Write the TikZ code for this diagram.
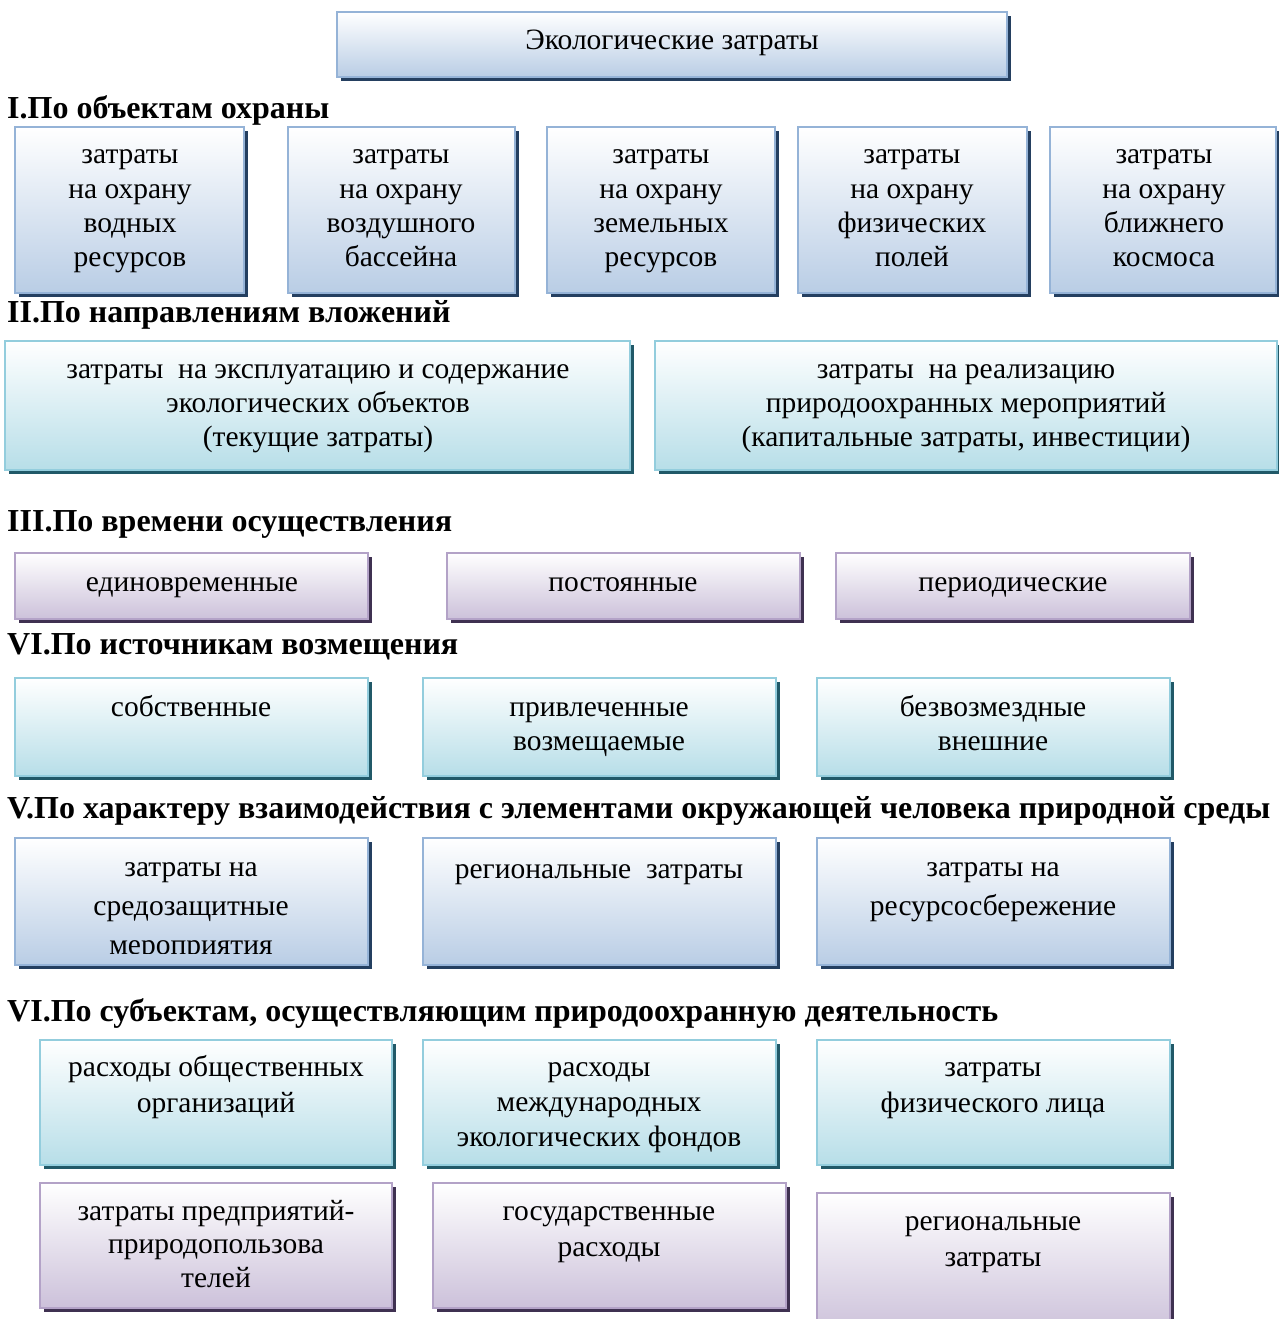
\documentclass[tikz,border=0pt]{standalone}
\usepackage{fontspec}
\setmainfont{Liberation Serif}
\usetikzlibrary{shadows}

% palette: border, bottom of the gradient, drop shadow
\definecolor{blueline}{HTML}{95B3D7}
\definecolor{bluefill}{HTML}{B9CDE5}
\definecolor{blueshade}{HTML}{243F60}
\definecolor{tealline}{HTML}{93CDDD}
\definecolor{tealfill}{HTML}{B7DEE8}
\definecolor{tealshade}{HTML}{215968}
\definecolor{violetline}{HTML}{B3A2C7}
\definecolor{violetfill}{HTML}{CCC1DA}
\definecolor{violetshade}{HTML}{3F3151}

% multi-line centred label whose baseline is the first line
\newcommand\ml[1]{\begin{tabular}[t]{@{}c@{}}#1\end{tabular}}

\tikzset{
  panel/.style={rectangle, inner sep=0pt, outer sep=0pt, anchor=north west, line width=2.5pt},
  bluebox/.style={panel, draw=blueline, top color=white, middle color=bluefill!55!white, bottom color=bluefill,
    drop shadow={shadow xshift=4pt, shadow yshift=-4pt, opacity=1, fill=blueshade}},
  tealbox/.style={panel, draw=tealline, top color=white, middle color=tealfill!55!white, bottom color=tealfill,
    drop shadow={shadow xshift=4pt, shadow yshift=-4pt, opacity=1, fill=tealshade}},
  violetbox/.style={panel, draw=violetline, top color=white, middle color=violetfill!55!white, bottom color=violetfill,
    drop shadow={shadow xshift=4pt, shadow yshift=-4pt, opacity=1, fill=violetshade}},
  txt/.style={anchor=base, inner sep=0pt, font=\fontsize{29.5}{#1}\selectfont},
  txt/.default=34,
  head/.style={anchor=base west, inner sep=0pt, font=\fontsize{32}{36}\selectfont\bfseries},
}

\begin{document}
\begin{tikzpicture}[x=1pt, y=-1pt]
\useasboundingbox (0,0) rectangle (1278,1319);
\fill[white] (0,0) rectangle (1278,1319);

% title
\node[bluebox, minimum width=670pt, minimum height=65pt] (title) at (337,12) {};
\node[txt] (titletext) at (672,50) {Экологические затраты};

% I
\node[head] (h1) at (7,119) {I.По объектам охраны};
\node[bluebox, minimum width=229pt, minimum height=166pt] (o1) at (15,127) {};
\node[bluebox, minimum width=227pt, minimum height=166pt] (o2) at (288,127) {};
\node[bluebox, minimum width=228pt, minimum height=166pt] (o3) at (547,127) {};
\node[bluebox, minimum width=229pt, minimum height=166pt] (o4) at (798,127) {};
\node[bluebox, minimum width=226pt, minimum height=166pt] (o5) at (1050,127) {};
\node[txt] (o1t) at (130,164) {\ml{затраты\\на охрану\\водных\\ресурсов}};
\node[txt] (o2t) at (401,164) {\ml{затраты\\на охрану\\воздушного\\бассейна}};
\node[txt] (o3t) at (661,164) {\ml{затраты\\на охрану\\земельных\\ресурсов}};
\node[txt] (o4t) at (912,164) {\ml{затраты\\на охрану\\физических\\полей}};
\node[txt] (o5t) at (1164,164) {\ml{затраты\\на охрану\\ближнего\\космоса}};

% II
\node[head] (h2) at (7,322) {II.По направлениям вложений};
\node[tealbox, minimum width=625pt, minimum height=129pt] (d1) at (5,341) {};
\node[tealbox, minimum width=622pt, minimum height=129pt] (d2) at (655,341) {};
\node[txt] (d1t) at (318,378) {\ml{затраты~ на эксплуатацию и содержание\\экологических объектов\\(текущие затраты)}};
\node[txt] (d2t) at (966,378) {\ml{затраты~ на реализацию\\природоохранных мероприятий\\(капитальные затраты, инвестиции)}};

% III
\node[head] (h3) at (7,531) {III.По времени осуществления};
\node[violetbox, minimum width=353pt, minimum height=66pt] (t1) at (15,553) {};
\node[violetbox, minimum width=353pt, minimum height=66pt] (t2) at (447,553) {};
\node[violetbox, minimum width=354pt, minimum height=66pt] (t3) at (836,553) {};
\node[txt] (t1t) at (192,591) {единовременные};
\node[txt] (t2t) at (623,591) {постоянные};
\node[txt] (t3t) at (1013,591) {периодические};

% IV
\node[head] (h4) at (7,654) {VI.По источникам возмещения};
\node[tealbox, minimum width=353pt, minimum height=98pt] (s1) at (15,678) {};
\node[tealbox, minimum width=353pt, minimum height=98pt] (s2) at (423,678) {};
\node[tealbox, minimum width=353pt, minimum height=98pt] (s3) at (817,678) {};
\node[txt] (s1t) at (191,716) {собственные};
\node[txt] (s2t) at (599,716) {\ml{привлеченные\\возмещаемые}};
\node[txt] (s3t) at (993,716) {\ml{безвозмездные\\внешние}};

% V
\node[head] (h5) at (7,818) {V.По характеру взаимодействия с элементами окружающей человека природной среды};
\node[bluebox, minimum width=353pt, minimum height=127pt] (e1) at (15,838) {};
\node[bluebox, minimum width=353pt, minimum height=127pt] (e2) at (423,838) {};
\node[bluebox, minimum width=353pt, minimum height=127pt] (e3) at (817,838) {};
\begin{scope}
  \clip (15,838) rectangle (368,953);
  \node[txt=39] (e1t) at (191,876) {\ml{затраты на\\средозащитные\\мероприятия}};
\end{scope}
\node[txt] (e2t) at (599,878) {региональные~ затраты};
\node[txt=39] (e3t) at (993,876) {\ml{затраты на\\ресурсосбережение}};

% VI
\node[head] (h6) at (7,1021) {VI.По субъектам, осуществляющим природоохранную деятельность};
\node[tealbox, minimum width=352pt, minimum height=125pt] (r1) at (40,1040) {};
\node[tealbox, minimum width=353pt, minimum height=125pt] (r2) at (423,1040) {};
\node[tealbox, minimum width=353pt, minimum height=125pt] (r3) at (817,1040) {};
\node[violetbox, minimum width=352pt, minimum height=125pt] (r4) at (40,1183) {};
\node[violetbox, minimum width=353pt, minimum height=125pt] (r5) at (433,1183) {};
\node[violetbox, minimum width=353pt, minimum height=140pt] (r6) at (817,1193) {};
\node[txt=36] (r1t) at (216,1076) {\ml{расходы общественных\\организаций}};
\node[txt=35] (r2t) at (599,1076) {\ml{расходы\\международных\\экологических фондов}};
\node[txt=36] (r3t) at (993,1076) {\ml{затраты\\физического лица}};
\node[txt=33.5] (r4t) at (216,1220) {\ml{затраты предприятий-\\природопользова\\телей}};
\node[txt=36] (r5t) at (609,1220) {\ml{государственные\\расходы}};
\node[txt=36] (r6t) at (993,1230) {\ml{региональные\\затраты}};
\end{tikzpicture}
\end{document}
